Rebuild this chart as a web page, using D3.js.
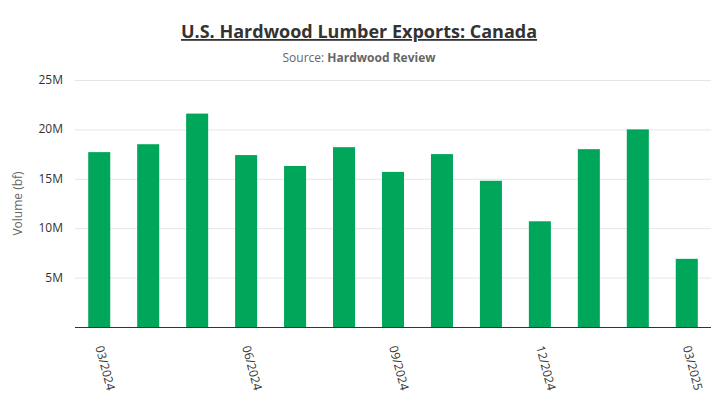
<!DOCTYPE html>
<html><head><meta charset="utf-8">
<script src="https://cdn.jsdelivr.net/npm/d3@7"></script>
<style>body{margin:0;background:#fff;font-family:"Open Sans",sans-serif;}</style>
</head><body><svg width="723" height="401"></svg>
<script>
var months = ['03/2024','04/2024','05/2024','06/2024','07/2024','08/2024','09/2024','10/2024','11/2024','12/2024','01/2025','02/2025','03/2025'];
var volumes = [17.7, 18.5, 21.6, 17.4, 16.3, 18.2, 15.7, 17.5, 14.8, 10.7, 18.0, 20.0, 6.9];
var shownTicks = ['03/2024','06/2024','09/2024','12/2024','03/2025'];
var yTicks = [5, 10, 15, 20, 25];

var svg = d3.select('svg');
var plotLeft = 75, plotRight = 711, plotTop = 80, plotBottom = 327;

var x = d3.scaleBand().domain(months).range([plotLeft, plotRight]).paddingInner(0.55).paddingOuter(0.27);
var y = d3.scaleLinear().domain([0, 25]).range([plotBottom, plotTop]);

// gridlines
svg.selectAll('.grid').data(yTicks).enter().append('line')
    .attr('x1', plotLeft).attr('x2', plotRight)
    .attr('y1', function(d) { return y(d) + 0.5; }).attr('y2', function(d) { return y(d) + 0.5; })
    .attr('stroke', '#e6e6e6');

svg.selectAll('.ylab').data(yTicks).enter().append('text')
    .attr('x', plotLeft - 12).attr('y', function(d) { return y(d) + 4; })
    .attr('text-anchor', 'end').attr('font-size', 12).attr('fill', '#333')
    .text(function(d) { return d + 'M'; });

svg.selectAll('rect').data(volumes).enter().append('rect')
    .attr('x', function(d, i) { return x(months[i]); })
    .attr('width', x.bandwidth())
    .attr('y', function(d) { return y(d); })
    .attr('height', function(d) { return plotBottom - y(d); })
    .attr('fill', '#00a65a');

svg.append('line').attr('x1', plotLeft).attr('x2', plotRight).attr('y1', plotBottom + 0.5).attr('y2', plotBottom + 0.5)
    .attr('stroke', '#333');

svg.selectAll('.xlab').data(shownTicks).enter().append('text')
    .attr('transform', function(d) {
        return 'translate(' + (x(d) + x.bandwidth() / 2 - 4) + ',' + (plotBottom + 20) + ') rotate(75)';
    })
    .attr('font-size', 12).attr('fill', '#333')
    .text(function(d) { return d; });

svg.append('text').attr('transform', 'translate(22,' + ((plotTop + plotBottom) / 2) + ') rotate(-90)')
    .attr('text-anchor', 'middle').attr('font-size', 12).attr('fill', '#666')
    .text('Volume (bf)');

svg.append('text').attr('x', 359).attr('y', 38).attr('text-anchor', 'middle')
    .attr('font-size', 18).attr('font-weight', 'bold').attr('fill', '#333')
    .attr('text-decoration', 'underline')
    .text('U.S. Hardwood Lumber Exports: Canada');

var sub = svg.append('text').attr('x', 359).attr('y', 62).attr('text-anchor', 'middle')
    .attr('font-size', 12).attr('fill', '#666');
sub.append('tspan').text('Source: ');
sub.append('tspan').attr('font-weight', 'bold').text('Hardwood Review');
</script></body></html>
